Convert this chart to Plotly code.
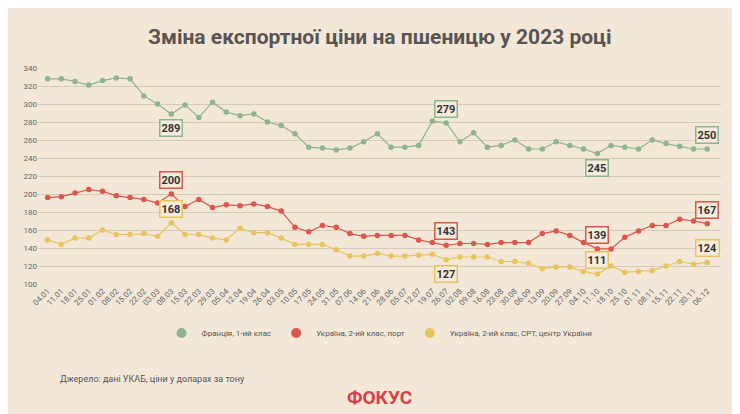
import plotly.graph_objects as go

dates = ["04.01","11.01","18.01","25.01","01.02","08.02","15.02","22.02","03.03","08.03","15.03","22.03","29.03","05.04","12.04","19.04","26.04","03.05","10.05","17.05","24.05","31.05","07.06","14.06","21.06","28.06","05.07","12.07","19.07","26.07","02.08","09.08","16.08","23.08","30.08","06.09","13.09","20.09","27.09","04.10","11.10","18.10","25.10","01.11","08.11","15.11","22.11","30.11","06.12"]
france = [328,328,325,321,326,329,328,309,300,289,299,285,302,291,287,289,280,276,267,252,251,249,251,258,
          267,252,252,254,281,279,258,268,252,254,260,250,250,258,254,250,245,254,252,250,260,256,253,250,250]
ukr_port = [196,197,201,205,203,198,196,194,190,200,186,194,185,188,187,189,186,181,163,158,165,163,156,153,
            154,154,154,149,146,143,145,145,144,146,146,146,156,159,154,146,139,139,152,159,165,165,172,170,167]
ukr_cpt = [149,144,151,151,160,155,155,156,153,168,155,155,151,149,162,157,157,151,144,144,144,138,131,131,
           134,131,131,132,133,127,130,130,130,125,125,123,117,119,119,114,111,120,113,114,115,120,125,122,124]
names = ["Франція, 1-ий клас", "Україна, 2-ий клас, порт", "Україна, 2-ий клас, CPT, центр України"]
colors = ["#8fb58c", "#d9574c", "#e8c45e"]
callouts = [(0,9,False),(0,29,True),(0,40,False),(0,48,True),
            (1,9,True),(1,29,True),(1,40,True),(1,48,True),
            (2,9,True),(2,29,False),(2,40,True),(2,48,True)]

series = [france, ukr_port, ukr_cpt]
x = list(range(len(dates)))
fig = go.Figure()
for s, n, c in zip(series, names, colors):
    fig.add_trace(go.Scatter(x=x, y=s, name=n, mode="lines+markers", showlegend=False,
                             line=dict(color=c, width=1.2), marker=dict(color=c, size=5.5)))
for n, c in zip(names, colors):
    fig.add_trace(go.Scatter(x=[None], y=[None], name=n, mode="markers",
                             marker=dict(color=c, size=10)))
for si, pi, above in callouts:
    fig.add_annotation(x=pi, y=series[si][pi], text=f"<b>{series[si][pi]}</b>", showarrow=False,
                       yshift=14 if above else -14, font=dict(size=11, color="#333", family="Roboto"),
                       bgcolor="rgba(245,236,222,0.9)", bordercolor=colors[si], borderwidth=1.5, borderpad=1)
fig.add_annotation(x=0.5, y=1.0, xref="paper", yref="paper", yanchor="bottom", yshift=17,
                   text="<b>Зміна експортної ціни на пшеницю у 2023 році</b>", showarrow=False,
                   font=dict(size=21, color="#5a5452", family="Roboto"))
fig.add_annotation(x=0.03, y=-0.47, xref="paper", yref="paper", xanchor="left",
                   text="Джерело: дані УКАБ, ціни у доларах за тону", showarrow=False,
                   font=dict(size=9, color="#555", family="Roboto"))
fig.add_annotation(x=0.5, y=-0.59, xref="paper", yref="paper",
                   text="<b>ФОКУС</b>", showarrow=False,
                   font=dict(size=19, color="#d8404a", family="Roboto"))
fig.update_layout(
    width=740, height=414, margin=dict(l=30, r=27, t=60, b=138),
    paper_bgcolor="#f3e7d8", plot_bgcolor="rgba(0,0,0,0)",
    font=dict(family="Roboto", color="#555"),
    showlegend=True,
    legend=dict(orientation="h", x=0.5, xanchor="center", y=-0.16, yanchor="top",
                font=dict(size=8, color="#555")),
    xaxis=dict(tickmode="array", tickvals=x, ticktext=dates, tickangle=-45, range=[-0.7, 49],
               showgrid=False, zeroline=False, tickfont=dict(size=8, color="#666")),
    yaxis=dict(range=[100, 340], dtick=20, gridcolor="rgba(190,170,150,0.5)", zeroline=False,
               tickfont=dict(size=8, color="#666")),
)
fig.write_html("out.html")
